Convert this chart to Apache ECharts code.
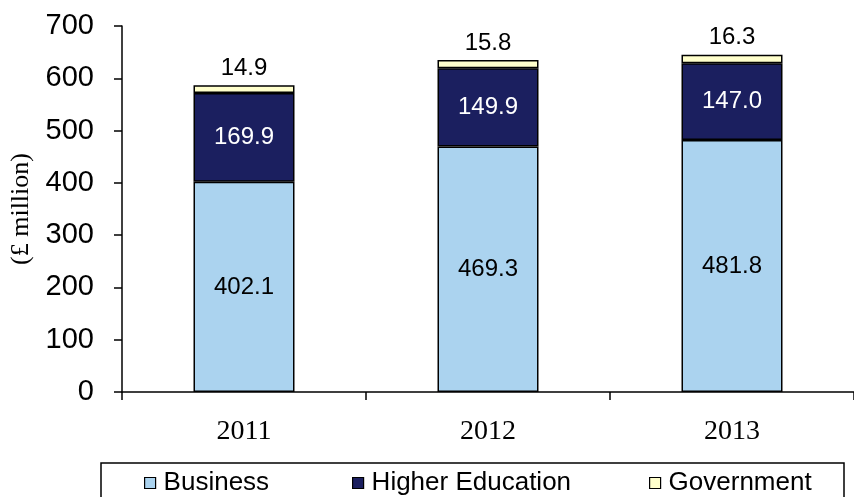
<!DOCTYPE html>
<html>
<head>
<meta charset="utf-8">
<script src="https://cdn.jsdelivr.net/npm/echarts@6/dist/echarts.min.js"></script>
<style>html,body{margin:0;padding:0;background:#fff;}#c{width:854px;height:497px;}</style>
</head>
<body>
<div id="c"></div>
<script>
const categories = ['2011', '2012', '2013'];
const business = [402.1, 469.3, 481.8];
const higherEducation = [169.9, 149.9, 147.0];
const government = [14.9, 15.8, 16.3];
const yTicks = { min: 0, max: 700, interval: 100 };
const seriesNames = ['Business', 'Higher Education', 'Government'];

const SANS = "'Liberation Sans', Arial, sans-serif";
const SERIF = "'Liberation Serif', 'Times New Roman', serif";
const colors = ['#abd3ef', '#1b1f5f', '#ffffcc'];

const chart = echarts.init(document.getElementById('c'), null, { renderer: 'canvas' });

function legendAt(i, left) {
  return {
    left: left, top: 470, padding: 0,
    itemWidth: 11, itemHeight: 11, icon: 'rect',
    data: [{ name: seriesNames[i], itemStyle: { color: colors[i], borderColor: '#000', borderWidth: 1.2 } }],
    textStyle: { fontFamily: SANS, fontSize: 26, color: '#000', lineHeight: 26, padding: [0, 0, 0, 3] },
    selectedMode: false
  };
}

const barBase = { type: 'bar', stack: 'total', barWidth: 101, itemStyle: { borderColor: '#000', borderWidth: 1.5 } };

chart.setOption({
  animation: false,
  backgroundColor: '#fff',
  grid: { left: 111, top: 26, width: 747, height: 366, containLabel: false },
  legend: [legendAt(0, 144), legendAt(1, 352), legendAt(2, 649)],
  graphic: [{
    type: 'rect', shape: { x: 101, y: 463, width: 743, height: 60 },
    style: { fill: 'none', stroke: '#000', lineWidth: 1.5 }, silent: true
  }],
  xAxis: {
    type: 'category', data: categories, boundaryGap: true,
    axisLine: { lineStyle: { color: '#000', width: 1.5 } },
    axisTick: { show: true, length: 8, alignWithLabel: false, lineStyle: { color: '#000', width: 1.5 } },
    axisLabel: { fontFamily: SERIF, fontSize: 28, color: '#000', margin: 26 }
  },
  yAxis: {
    type: 'value', min: yTicks.min, max: yTicks.max, interval: yTicks.interval,
    name: '(£ million)', nameLocation: 'middle', nameGap: 88,
    nameTextStyle: { fontFamily: SERIF, fontSize: 26, color: '#000' },
    axisLine: { show: true, lineStyle: { color: '#000', width: 1.5 } },
    axisTick: { show: true, length: 8, lineStyle: { color: '#000', width: 1.5 } },
    splitLine: { show: false },
    axisLabel: { fontFamily: SANS, fontSize: 29, color: '#000', margin: 28 }
  },
  series: [
    Object.assign({}, barBase, {
      name: seriesNames[0], data: business, itemStyle: Object.assign({}, barBase.itemStyle, { color: colors[0] }),
      label: { show: true, position: 'inside', fontFamily: SANS, fontSize: 24, color: '#000', formatter: p => p.value.toFixed(1) }
    }),
    Object.assign({}, barBase, {
      name: seriesNames[1], data: higherEducation, itemStyle: Object.assign({}, barBase.itemStyle, { color: colors[1] }),
      label: { show: true, position: 'inside', fontFamily: SANS, fontSize: 24, color: '#fff', formatter: p => p.value.toFixed(1) }
    }),
    Object.assign({}, barBase, {
      name: seriesNames[2], data: government, itemStyle: Object.assign({}, barBase.itemStyle, { color: colors[2] }),
      label: { show: true, position: 'top', distance: 5, fontFamily: SANS, fontSize: 24, color: '#000', formatter: p => p.value.toFixed(1) }
    })
  ]
});
</script>
</body>
</html>
